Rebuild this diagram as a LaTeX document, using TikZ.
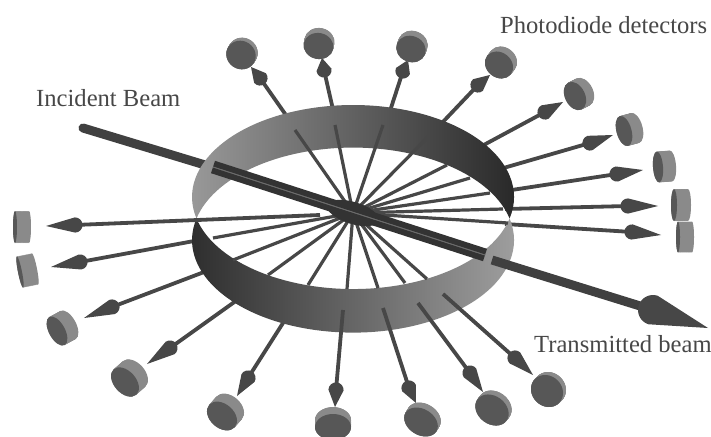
\documentclass[tikz,border=0pt]{standalone}
\usepackage{fontspec}
\setmainfont{Liberation Serif}
\usepackage{tikz}
\usetikzlibrary{arrows}

\tikzset{
  rayline/.style={draw=black!72, line width=3.8pt},
  conefill/.style={fill=black!72},
  beamline/.style={draw=black!75, line width=9pt},
  tubeline/.style={draw=black!58, line width=0.8pt},
  detside/.style={fill=black!46},
  detface/.style={fill=black!66},
  bandback/.style={left color=black!38, middle color=black!58, right color=black!84},
  bandfront/.style={left color=black!84, middle color=black!64, right color=black!38},
  labeltext/.style={text=black!72, inner sep=0pt, anchor=base west,
                    font=\fontsize{24.6}{26}\selectfont}
}

\newcommand{\conehead}[5]{%
  \pgfmathsetmacro{\coneang}{atan2(#2-#4,#3-#1)}%
  \pgfmathsetmacro{\conelen}{veclen(#3-#1,#4-#2)}%
  \fill[conefill, shift={(#1,#2)}, rotate=\coneang]
    (\conelen pt,0pt) -- (0pt,#5 pt)
    arc[start angle=90, end angle=270, radius=#5 pt] -- cycle;
}
\newcommand{\outray}[6]{%
  \draw[rayline] (#1,#2) -- (#3,#4);
  \conehead{#3}{#4}{#5}{#6}{7.6}
}
\newcommand{\detector}[6]{%
  \pgfmathsetmacro{\detang}{atan2(-(#6),#5)}%
  \foreach \dt in {0,0.04,...,1.01} {
    \fill[detside] ({#1+\dt*(#5)},{#2+\dt*(#6)})
      ellipse [x radius=#3 pt, y radius=#4 pt, rotate=\detang];
  }
  \fill[detface] (#1,#2) ellipse [x radius=#3 pt, y radius=#4 pt, rotate=\detang];
}

\begin{document}
\begin{tikzpicture}[x=1pt, y=-1pt]

\clip (0,0) rectangle (711,436);

\coordinate (hub) at (353,213);
\coordinate (tubestart) at (213,167);
\coordinate (tubeend) at (485,255);
\coordinate (beamstart) at (83,128);
\coordinate (beamhidden) at (215,168);
\coordinate (beamout) at (492,260);
\coordinate (beambulb) at (653,310);

\draw[beamline, line cap=round] (beamstart) -- (beamhidden);

\outray{288}{118}{260}{78}{251}{67}
\outray{334}{114}{324}{70}{322}{58}
\outray{389}{114}{403}{71}{408}{60}
\outray{440}{125}{478}{85}{490}{75}
\outray{480}{147}{545}{112}{563}{102}
\outray{500}{169}{590}{143}{613}{135}
\outray{505}{191}{617}{174}{643}{170}
\outray{505}{209}{628}{206}{658}{206}
\outray{505}{224}{632}{232}{661}{235}
\outray{205}{239}{80}{262}{51}{267}
\outray{212}{269}{112}{307}{84}{318}
\outray{240}{298}{170}{348}{147}{364}
\outray{290}{312}{248}{378}{237}{396}

\shade[bandback] (196.5,218.5)
  arc[start angle=166.5, end angle=373.5, x radius=161, y radius=92]
  arc[start angle=346.5, end angle=193.5, x radius=161, y radius=92.5] -- cycle;
\shade[bandfront] (196.5,218.5)
  arc[start angle=193.5, end angle=-13.5, x radius=161, y radius=92.5]
  arc[start angle=13.5, end angle=166.5, x radius=161, y radius=92] -- cycle;

\draw[rayline, line width=3.2pt] (hub) -- (295,130);
\draw[rayline, line width=3.2pt] (hub) -- (335,125);
\draw[rayline, line width=3.2pt] (hub) -- (383,125);
\draw[rayline, line width=3.2pt] (hub) -- (428,137);
\draw[rayline, line width=3.2pt] (hub) -- (447,165);
\draw[rayline, line width=3.2pt] (hub) -- (470,178);
\draw[rayline, line width=3.2pt] (hub) -- (490,193);
\draw[rayline, line width=3.2pt] (hub) -- (503,209);
\draw[rayline, line width=3.2pt] (hub) -- (508,223);
\draw[rayline, line width=3.2pt] (hub) -- (427,279);
\draw[rayline, line width=3.2pt] (hub) -- (405,283);
\draw[rayline, line width=3.2pt] (hub) -- (378,288);
\draw[rayline, line width=3.2pt] (hub) -- (347,289);
\draw[rayline, line width=3.2pt] (hub) -- (308,285);
\draw[rayline, line width=3.2pt] (hub) -- (268,275);
\draw[rayline, line width=3.2pt] (hub) -- (233,260);
\draw[rayline, line width=3.2pt] (hub) -- (213,238);

\outray{320}{215}{75}{225}{46}{226}
\outray{343}{310}{336}{390}{335}{407}
\outray{383}{308}{409}{388}{416}{403}
\outray{418}{303}{470}{373}{483}{392}
\outray{443}{294}{515}{358}{533}{375}

\fill[black!80, rotate around={-17:(hub)}] (hub) ellipse [x radius=27pt, y radius=11pt];

\draw[draw=black!80, line width=13pt] (tubestart) -- (tubeend);
\draw[tubeline, yshift=2.8pt] (tubestart) -- (tubeend);
\draw[tubeline, yshift=-2.8pt] (tubestart) -- (tubeend);

\draw[beamline] (beamout) -- (beambulb);
\conehead{653}{310}{708}{328}{15}

\detector{241}{55}{14}{15}{2}{-3}
\detector{318.5}{46}{13}{15}{1}{-5}
\detector{411}{49}{13}{15}{2}{-5}
\detector{499}{65}{12.5}{15}{4}{-5}
\detector{575}{96}{10}{15}{8}{-4}
\detector{624}{131}{7.5}{15.5}{11}{-3}
\detector{658}{167}{5}{15.5}{13}{-1}
\detector{674}{205}{3}{16}{14}{0}
\detector{678}{237}{2}{15.5}{14}{0}
\detector{15}{227}{2}{16}{14}{0}
\detector{20}{272}{2}{16}{15}{-3}
\detector{57}{331}{8}{16}{11}{-6}
\detector{125}{382}{11}{17}{9}{-8}
\detector{222}{416}{12}{17}{7}{-8}
\detector{333}{427}{13}{18}{0}{-7}
\detector{421}{422}{13}{18}{3}{-5}
\detector{492}{410}{14}{18}{3}{-4}
\detector{547}{391}{15}{17}{3}{-3}

\node[labeltext] (detectorlabel) at (500,34) {Photodiode detectors};
\node[labeltext] (incidentlabel) at (36,106) {Incident Beam};
\node[labeltext] (transmittedlabel) at (534,352) {Transmitted beam};

\end{tikzpicture}
\end{document}
